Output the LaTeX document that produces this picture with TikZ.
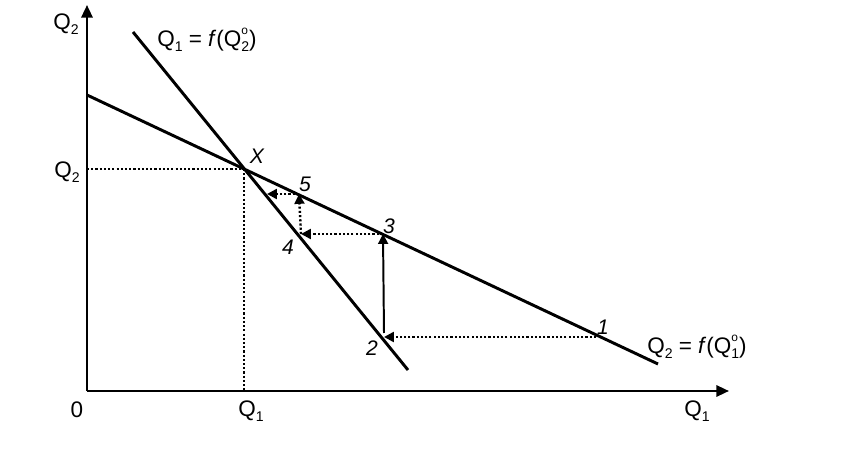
\documentclass[tikz,border=0pt]{standalone}
\usepackage{fontspec}
\setmainfont{Liberation Sans}
\usetikzlibrary{arrows.meta}
\newcommand{\qsub}[1]{Q\raisebox{-0.4ex}{\fontsize{10}{10}\selectfont #1}}
\newcommand{\qzero}[1]{Q\rlap{\raisebox{1.0ex}{\fontsize{8.5}{8.5}\selectfont o}}\raisebox{-0.45ex}{\fontsize{10}{10}\selectfont #1}}
\tikzset{
    axis/.style={line width=1.7pt,-{Triangle[length=9pt,width=8pt]}},
    curve/.style={line width=2.1pt},
    guide/.style={line width=1.7pt,dash pattern=on 1.5pt off 1.5pt},
    move/.style={-{Triangle[length=7pt,width=7pt]}},
    lbl/.style={inner sep=0pt,font=\fontsize{16}{18}\selectfont},
    pt/.style={inner sep=0pt,font=\fontsize{15}{17}\selectfont\itshape}
}
\begin{document}
\begin{tikzpicture}[x=0.025cm,y=-0.025cm]
    \useasboundingbox (0,0) rectangle (843,451);
    \coordinate (O) at (87,391);
    \coordinate (xend) at (729,391);
    \coordinate (yend) at (87,5);
    \coordinate (s1) at (133,32);
    \coordinate (s2) at (408,370);
    \coordinate (h1) at (87,95);
    \coordinate (h2) at (658,364);
    \coordinate (X) at (244,169);
    \coordinate (p1) at (596,337);
    \coordinate (p2) at (384,337);
    \coordinate (p3) at (383,234);
    \coordinate (p4) at (301,234);
    \coordinate (p5) at (299,194);
    \coordinate (p6) at (267,194);
    \draw[axis] (O) -- (xend);
    \draw[axis] (O) -- (yend);
    \draw[curve] (s1) -- (s2);
    \draw[curve] (h1) -- (h2);
    \draw[guide] (O |- X) -- (X);
    \draw[guide] (X) -- (X |- O);
    \draw[guide,move] (p1) -- (p2);
    \draw[line width=1.4pt,move] (p2 |- 0,333) -- (p3);
    \draw[guide,move] (p3) -- (p4);
    \draw[guide,move] (p4) -- (p5);
    \draw[guide,move] (p5) -- (p6);
    \node[lbl] (ytop) at (66,24) {\qsub{2}};
    \node[lbl] (yq) at (67,172) {\qsub{2}};
    \node[lbl] (zero) at (77,410) {0};
    \node[lbl] (xq) at (251,411) {\qsub{1}};
    \node[lbl] (xright) at (697,411) {\qsub{1}};
    \node[lbl] (steeplbl) at (207,40) {\qsub{1} = \textit{f}(\qzero{2})};
    \node[lbl] (flatlbl) at (697,347) {\qsub{2} = \textit{f}(\qzero{1})};
    \node[pt] (xlbl) at (257,156) {X};
    \node[pt] (n1) at (603,327) {1};
    \node[pt] (n2) at (372,348) {2};
    \node[pt] (n3) at (389,226) {3};
    \node[pt] (n4) at (288,247) {4};
    \node[pt] (n5) at (305,184) {5};
\end{tikzpicture}
\end{document}
